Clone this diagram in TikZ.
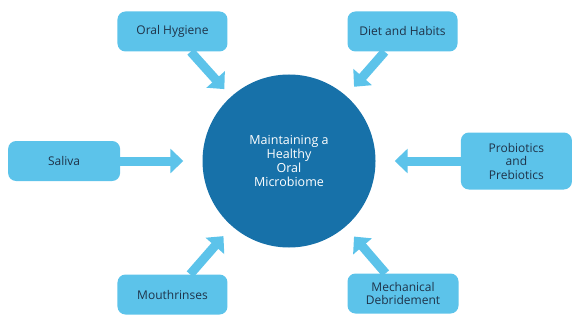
\documentclass[tikz,border=0pt]{standalone}
\usepackage{fontspec}
\setmainfont{Open Sans}
\usepackage{tikz}
\usetikzlibrary{arrows.meta,positioning}
\definecolor{hubBlue}{HTML}{1771A9}
\definecolor{topicBack}{HTML}{5CC3EA}
\definecolor{topicText}{HTML}{1F3349}

\begin{document}
\begin{tikzpicture}[x=1pt,y=-1pt,>=Latex]
  \useasboundingbox (0,0) rectangle (588,334);
  \tikzstyle{topicBox}=[fill=topicBack,rounded corners=8pt,minimum width=110pt,minimum height=40pt,inner sep=2pt,align=center,text=topicText,font=\fontsize{12}{13.5}\selectfont]
  \tikzstyle{feedArrow}=[draw=topicBack,line width=9pt,-{Triangle[width=24pt,length=13pt]}]
  \node[circle,fill=hubBlue,minimum size=173pt,inner sep=0pt,align=center,text=white,font=\fontsize{12.5}{14}\selectfont] (hub) at (289,161) {Maintaining a\\Healthy\\Oral\\Microbiome};
  \node[topicBox,above left=48pt and 0pt of hub.north west] (oral) {Oral Hygiene};
  \node[topicBox,above right=48pt and -3pt of hub.north east] (diet) {Diet and Habits};
  \node[topicBox,left=82pt of hub,minimum width=112pt] (saliva) {Saliva};
  \node[topicBox,right=85pt of hub,minimum width=111pt,minimum height=57pt] (probio) {Probiotics\\and\\Prebiotics};
  \node[topicBox,below left=52pt and 0pt of hub.south west] (mouth) {Mouthrinses};
  \node[topicBox,below right=51pt and -3pt of hub.south east,minimum width=111pt] (mech) {Mechanical\\Debridement};
  \draw[feedArrow,shorten >=10pt] (oral) -- (hub);
  \draw[feedArrow,shorten >=12pt] (diet) -- (hub);
  \draw[feedArrow,shorten >=19pt] (saliva) -- (hub);
  \draw[feedArrow,shorten >=19pt] (probio) -- (hub);
  \draw[feedArrow,shorten >=13pt] (mouth) -- (hub);
  \draw[feedArrow,shorten >=13pt] (mech) -- (hub);
\end{tikzpicture}
\end{document}
